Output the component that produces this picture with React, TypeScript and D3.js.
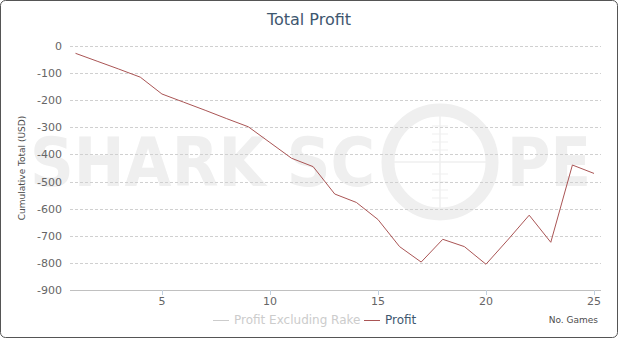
import React from "react";
import * as d3 from "d3";

const games = [1, 2, 3, 4, 5, 6, 7, 8, 9, 10, 11, 12, 13, 14, 15, 16, 17, 18, 19, 20, 21, 22, 23, 24, 25];
const profit = [-27, -56, -85, -115, -177, -207, -237, -268, -298, -356, -414, -445, -546, -577, -640, -740, -797, -713, -740, -805, -716, -624, -724, -439, -470];
const yTicks = [0, -100, -200, -300, -400, -500, -600, -700, -800, -900];
const xTicks = [5, 10, 15, 20, 25];
const legendItems = ["Profit Excluding Rake", "Profit"];

const W = 619;
const H = 340;
const FONT = "'Lucida Grande', 'DejaVu Sans', Verdana, sans-serif";

export default function App() {
  const plotLeft = 70;
  const plotRight = 601;
  const x = d3.scaleLinear().domain([1, 25]).range([75.5, 594]);
  const y = d3.scaleLinear().domain([-900, 0]).range([290, 46]);
  const line = d3
    .line<number>()
    .x((_, i) => x(games[i]))
    .y((d) => y(d));

  const wmColor = "#efefef";
  const cx = 440;
  const cy = 162;

  return (
    <svg
      width={W}
      height={H}
      style={{ position: "absolute", left: 0, top: 0, fontFamily: FONT }}
    >
      <rect x={0} y={0} width={W} height={H} fill="#fff" />
      <rect x={0.5} y={0.5} width={617} height={337} rx={5} fill="#fff" stroke="#555" strokeWidth={1} />

      {/* watermark */}
      <g>
        <text
          x={30}
          y={186}
          fontFamily="'DejaVu Sans', sans-serif"
          fontWeight="bold"
          fontSize={68}
          fill={wmColor}
          textLength={345}
          lengthAdjust="spacingAndGlyphs"
        >
          SHARK SC
        </text>
        <circle cx={cx} cy={cy} r={52} fill="none" stroke={wmColor} strokeWidth={13} />
        <line x1={cx - 46} x2={cx + 46} y1={cy} y2={cy} stroke={wmColor} strokeWidth={1.5} />
        <line x1={cx} x2={cx} y1={cy - 46} y2={cy + 46} stroke={wmColor} strokeWidth={1.5} />
        {[-36, -28, -20, -12, 12, 20, 28, 36].map((o) => (
          <line key={o} x1={cx - 8} x2={cx + 8} y1={cy + o} y2={cy + o} stroke={wmColor} strokeWidth={1} />
        ))}
        <text
          x={507}
          y={186}
          fontFamily="'DejaVu Sans', sans-serif"
          fontWeight="bold"
          fontSize={68}
          fill={wmColor}
          textLength={84}
          lengthAdjust="spacingAndGlyphs"
        >
          PE
        </text>
      </g>

      {/* title */}
      <text x={309} y={25} textAnchor="middle" fontSize={16} fill="#3E576F">
        Total Profit
      </text>

      {/* gridlines */}
      {yTicks.map((t) =>
        t === -900 ? null : (
          <line
            key={t}
            x1={plotLeft}
            x2={plotRight}
            y1={Math.round(y(t)) + 0.5}
            y2={Math.round(y(t)) + 0.5}
            stroke="#d0d0d0"
            strokeWidth={1}
            strokeDasharray="3,2"
          />
        )
      )}
      {/* x axis line */}
      <line x1={plotLeft} x2={plotRight} y1={Math.round(y(-900)) + 0.5} y2={Math.round(y(-900)) + 0.5} stroke="#C0C0C0" />
      {xTicks.map((t) => (
        <line key={t} x1={Math.round(x(t)) + 0.5} x2={Math.round(x(t)) + 0.5} y1={290} y2={295} stroke="#C0D0E0" />
      ))}

      {/* y tick labels */}
      {yTicks.map((t) => (
        <text key={t} x={62} y={y(t) + 4} textAnchor="end" fontSize={11} fill="#666">
          {t}
        </text>
      ))}
      {/* x tick labels */}
      {xTicks.map((t) => (
        <text key={t} x={x(t)} y={305} textAnchor="middle" fontSize={11} fill="#666">
          {t}
        </text>
      ))}

      {/* axis titles */}
      <text
        transform={`translate(25,168) rotate(-90)`}
        textAnchor="middle"
        fontSize={9}
        fill="#4d4d4d"
      >
        Cumulative Total (USD)
      </text>
      <text x={598} y={323} textAnchor="end" fontSize={9} fill="#4d4d4d">
        No. Games
      </text>

      {/* series */}
      <path d={line(profit) || ""} fill="none" stroke="#AA5555" strokeWidth={1} />

      {/* legend */}
      <g>
        <line x1={213} x2={229} y1={320.5} y2={320.5} stroke="#CCC" strokeWidth={1} />
        <text x={234} y={324} fontSize={12} fill="#CCC">
          {legendItems[0]}
        </text>
        <line x1={364} x2={380} y1={320.5} y2={320.5} stroke="#AA5555" strokeWidth={1} />
        <text x={385} y={324} fontSize={12} fill="#3E576F">
          {legendItems[1]}
        </text>
      </g>
    </svg>
  );
}
